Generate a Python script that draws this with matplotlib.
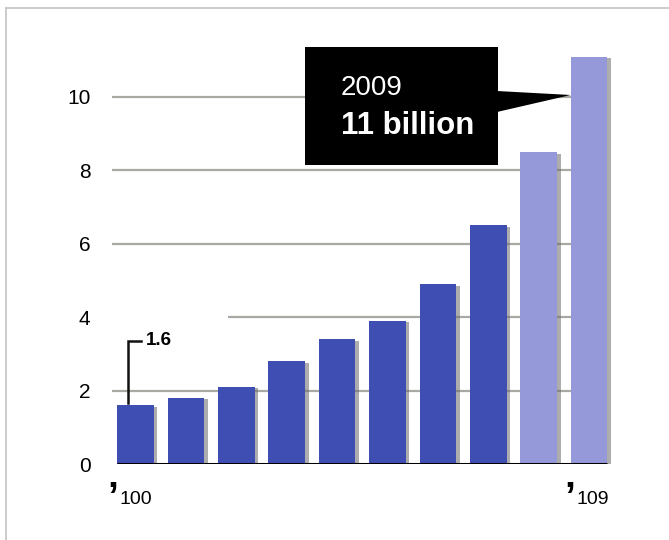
import matplotlib
matplotlib.use("Agg")
import matplotlib.pyplot as plt
from matplotlib.patches import Rectangle, Polygon
from matplotlib.lines import Line2D

# ---- data ----
years = ["2000", "2001", "2002", "2003", "2004", "2005", "2006", "2007", "2008", "2009"]
values = [1.6, 1.8, 2.1, 2.8, 3.4, 3.9, 4.9, 6.5, 8.5, 11.1]
projected = [False] * 8 + [True, True]
y_ticks = [0, 2, 4, 6, 8, 10]
first_label = "100"
last_label = "109"
callout_year = "2009"
callout_value = "11 billion"
first_value_label = "1.6"

W, H, DPI = 669, 540, 100
fig = plt.figure(figsize=(W / DPI, H / DPI), dpi=DPI)
plt.rcParams['font.family'] = ['Liberation Sans', 'DejaVu Sans']

# pixel helpers for axes placement
px_x0 = 135.5      # pixel x of first bar centre
px_step = 50.4     # pixels per bar
px_y0 = 464.0      # pixel y of value 0
px_unit = 36.7     # pixels per unit

def dx(px):
    return (px - px_x0) / px_step

def dy(py):
    return (px_y0 - py) / px_unit

ax_left_px, ax_right_px, ax_top_px = 112, 615, 40
ax = fig.add_axes([ax_left_px / W, (H - px_y0) / H,
                   (ax_right_px - ax_left_px) / W, (px_y0 - ax_top_px) / H])
ax.set_xlim(dx(ax_left_px), dx(ax_right_px))
ax.set_ylim(0, dy(ax_top_px))
for s in ax.spines.values():
    s.set_visible(False)
ax.set_xticks([])
ax.set_yticks(y_ticks)
ax.set_yticklabels([str(t) for t in y_ticks], fontsize=15)
ax.tick_params(axis='y', length=0, pad=15.5)

xs = list(range(len(values)))
bw = 0.73

# gridlines
grid_end = xs[-1] - bw / 2
for t in y_ticks[1:]:
    start = dx(ax_left_px) if t != 4 else dx(228)
    ax.hlines(t, start, grid_end, color='#a9a9a4', lw=1.6, zorder=1)

# shadows
colors = ['#9598d9' if p else '#3f4eb2' for p in projected]
ax.bar([x + 0.07 for x in xs], [v + 0.02 for v in values], width=bw, bottom=-0.06,
       color='#6a6a6a', alpha=0.55, zorder=2, linewidth=0)
ax.bar(xs, values, width=bw, color=colors, zorder=3, linewidth=0)

# baseline
ax.hlines(0, xs[0] - bw / 2, xs[-1] + bw / 2, color='black', lw=2.2, zorder=4)

# callout box
bx0, bx1 = dx(305), dx(498)
by0, by1 = dy(165), dy(47)
ax.add_patch(Rectangle((bx0, by0), bx1 - bx0, by1 - by0, facecolor='black',
                       edgecolor='none', zorder=5, clip_on=False))
ax.add_patch(Polygon([(bx1 - 0.02, dy(91)), (bx1 - 0.02, dy(112)), (xs[-1] - bw / 2, dy(95))],
                     closed=True, facecolor='black', edgecolor='none', zorder=5, clip_on=False))
ax.text(dx(341), dy(95), callout_year, color='white', fontsize=20,
        ha='left', va='baseline', zorder=6)
ax.text(dx(341), dy(134), callout_value, color='white', fontsize=22.5, fontweight='bold',
        family=['Liberation Sans Narrow', 'Liberation Sans', 'DejaVu Sans'],
        ha='left', va='baseline', zorder=6)

# first value annotation bracket
ax.plot([dx(128), dx(128), dx(141)], [values[0] + 0.05, dy(341), dy(341)],
        color='#111111', lw=1.8, zorder=6, solid_joinstyle='miter', clip_on=False)
ax.text(dx(146), dy(340.5), first_value_label, fontsize=13.5, fontweight='bold',
        ha='left', va='center', zorder=6)

# x end labels with apostrophe
for xi, lab in [(xs[0], first_label), (xs[-1] + 0.07, last_label)]:
    ax.text(xi, dy(499), lab, fontsize=14, ha='center', va='center', clip_on=False)
    ax.annotate('\u2019', xy=(xi, dy(499)), xycoords='data',
                xytext=(-17, -10), textcoords='offset pixels',
                fontsize=28, fontweight='bold', ha='right', va='baseline',
                annotation_clip=False)

# outer frame lines
fig.add_artist(Line2D([6 / W, 1], [1 - 8 / H, 1 - 8 / H], color='#c4c4c4', lw=1.2,
                      transform=fig.transFigure))
fig.add_artist(Line2D([6 / W, 6 / W], [0, 1 - 8 / H], color='#c4c4c4', lw=1.2,
                      transform=fig.transFigure))

fig.savefig('out.png', dpi=DPI)
